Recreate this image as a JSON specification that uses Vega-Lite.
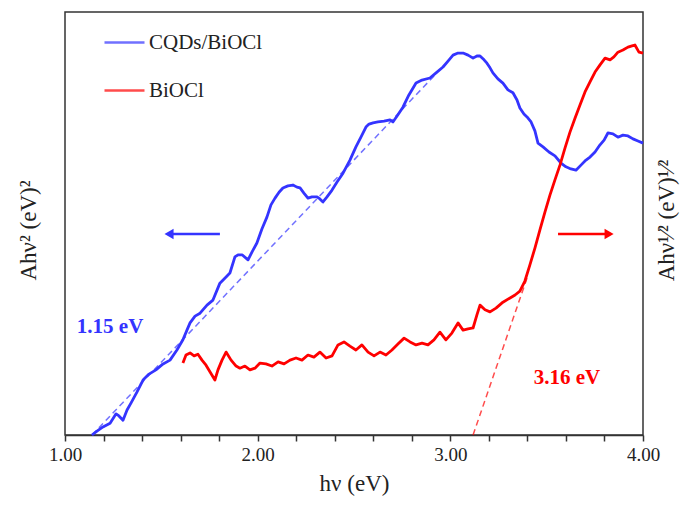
{
  "$schema": "https://vega.github.io/schema/vega-lite/v6.json",
  "width": 578,
  "height": 423,
  "autosize": {"type": "none"},
  "padding": {"left": 65, "top": 12, "right": 49, "bottom": 81},
  "config": {
    "view": {"stroke": "#333333", "strokeWidth": 1.5},
    "font": "Liberation Serif",
    "axis": {"grid": false, "titleFontWeight": "normal", "titleColor": "#222222", "labelColor": "#222222", "titleFont": "Liberation Serif", "labelFont": "Liberation Serif"},
    "axisX": {"labelFontSize": 19, "titleFontSize": 23, "tickSize": 6, "tickWidth": 1.5, "tickCount": 30, "tickColor": "#333333", "domainColor": "#333333", "domainWidth": 1.5, "labelPadding": 4, "titlePadding": 8, "labelOverlap": false, "labelFlush": false},
    "legend": {"labelFont": "Liberation Serif", "titleFont": "Liberation Serif"}
  },
  "datasets": {
    "main": [
      {"series": "CQDs/BiOCl", "x": 1.140, "y": 0},
      {"series": "CQDs/BiOCl", "x": 1.166, "y": 0.9},
      {"series": "CQDs/BiOCl", "x": 1.197, "y": 1.9},
      {"series": "CQDs/BiOCl", "x": 1.234, "y": 2.8},
      {"series": "CQDs/BiOCl", "x": 1.265, "y": 5.0},
      {"series": "CQDs/BiOCl", "x": 1.280, "y": 4.5},
      {"series": "CQDs/BiOCl", "x": 1.301, "y": 3.5},
      {"series": "CQDs/BiOCl", "x": 1.322, "y": 5.9},
      {"series": "CQDs/BiOCl", "x": 1.343, "y": 7.6},
      {"series": "CQDs/BiOCl", "x": 1.374, "y": 10.2},
      {"series": "CQDs/BiOCl", "x": 1.405, "y": 13.0},
      {"series": "CQDs/BiOCl", "x": 1.436, "y": 14.4},
      {"series": "CQDs/BiOCl", "x": 1.472, "y": 15.4},
      {"series": "CQDs/BiOCl", "x": 1.509, "y": 16.8},
      {"series": "CQDs/BiOCl", "x": 1.545, "y": 17.7},
      {"series": "CQDs/BiOCl", "x": 1.581, "y": 20.1},
      {"series": "CQDs/BiOCl", "x": 1.612, "y": 22.5},
      {"series": "CQDs/BiOCl", "x": 1.633, "y": 24.8},
      {"series": "CQDs/BiOCl", "x": 1.649, "y": 26.5},
      {"series": "CQDs/BiOCl", "x": 1.675, "y": 28.1},
      {"series": "CQDs/BiOCl", "x": 1.701, "y": 28.8},
      {"series": "CQDs/BiOCl", "x": 1.737, "y": 30.7},
      {"series": "CQDs/BiOCl", "x": 1.768, "y": 31.9},
      {"series": "CQDs/BiOCl", "x": 1.804, "y": 35.9},
      {"series": "CQDs/BiOCl", "x": 1.841, "y": 37.6},
      {"series": "CQDs/BiOCl", "x": 1.856, "y": 38.3},
      {"series": "CQDs/BiOCl", "x": 1.882, "y": 42.1},
      {"series": "CQDs/BiOCl", "x": 1.898, "y": 42.6},
      {"series": "CQDs/BiOCl", "x": 1.919, "y": 42.6},
      {"series": "CQDs/BiOCl", "x": 1.950, "y": 41.4},
      {"series": "CQDs/BiOCl", "x": 1.971, "y": 43.3},
      {"series": "CQDs/BiOCl", "x": 1.996, "y": 45.4},
      {"series": "CQDs/BiOCl", "x": 2.022, "y": 48.7},
      {"series": "CQDs/BiOCl", "x": 2.048, "y": 51.5},
      {"series": "CQDs/BiOCl", "x": 2.069, "y": 54.4},
      {"series": "CQDs/BiOCl", "x": 2.090, "y": 56.0},
      {"series": "CQDs/BiOCl", "x": 2.111, "y": 57.4},
      {"series": "CQDs/BiOCl", "x": 2.131, "y": 58.4},
      {"series": "CQDs/BiOCl", "x": 2.157, "y": 58.9},
      {"series": "CQDs/BiOCl", "x": 2.183, "y": 59.1},
      {"series": "CQDs/BiOCl", "x": 2.204, "y": 58.6},
      {"series": "CQDs/BiOCl", "x": 2.220, "y": 58.4},
      {"series": "CQDs/BiOCl", "x": 2.240, "y": 57.2},
      {"series": "CQDs/BiOCl", "x": 2.261, "y": 56.0},
      {"series": "CQDs/BiOCl", "x": 2.282, "y": 56.3},
      {"series": "CQDs/BiOCl", "x": 2.308, "y": 56.3},
      {"series": "CQDs/BiOCl", "x": 2.323, "y": 55.8},
      {"series": "CQDs/BiOCl", "x": 2.339, "y": 55.1},
      {"series": "CQDs/BiOCl", "x": 2.360, "y": 56.3},
      {"series": "CQDs/BiOCl", "x": 2.386, "y": 57.9},
      {"series": "CQDs/BiOCl", "x": 2.412, "y": 59.8},
      {"series": "CQDs/BiOCl", "x": 2.443, "y": 61.9},
      {"series": "CQDs/BiOCl", "x": 2.479, "y": 65.0},
      {"series": "CQDs/BiOCl", "x": 2.510, "y": 68.1},
      {"series": "CQDs/BiOCl", "x": 2.536, "y": 70.4},
      {"series": "CQDs/BiOCl", "x": 2.562, "y": 72.8},
      {"series": "CQDs/BiOCl", "x": 2.578, "y": 73.5},
      {"series": "CQDs/BiOCl", "x": 2.599, "y": 73.8},
      {"series": "CQDs/BiOCl", "x": 2.624, "y": 74.0},
      {"series": "CQDs/BiOCl", "x": 2.656, "y": 74.2},
      {"series": "CQDs/BiOCl", "x": 2.687, "y": 74.5},
      {"series": "CQDs/BiOCl", "x": 2.702, "y": 74.0},
      {"series": "CQDs/BiOCl", "x": 2.728, "y": 75.7},
      {"series": "CQDs/BiOCl", "x": 2.754, "y": 77.5},
      {"series": "CQDs/BiOCl", "x": 2.785, "y": 80.4},
      {"series": "CQDs/BiOCl", "x": 2.822, "y": 83.2},
      {"series": "CQDs/BiOCl", "x": 2.853, "y": 83.9},
      {"series": "CQDs/BiOCl", "x": 2.894, "y": 84.4},
      {"series": "CQDs/BiOCl", "x": 2.926, "y": 85.6},
      {"series": "CQDs/BiOCl", "x": 2.962, "y": 87.0},
      {"series": "CQDs/BiOCl", "x": 2.988, "y": 88.4},
      {"series": "CQDs/BiOCl", "x": 3.014, "y": 89.8},
      {"series": "CQDs/BiOCl", "x": 3.040, "y": 90.3},
      {"series": "CQDs/BiOCl", "x": 3.066, "y": 90.3},
      {"series": "CQDs/BiOCl", "x": 3.092, "y": 89.8},
      {"series": "CQDs/BiOCl", "x": 3.118, "y": 89.1},
      {"series": "CQDs/BiOCl", "x": 3.138, "y": 89.6},
      {"series": "CQDs/BiOCl", "x": 3.154, "y": 89.6},
      {"series": "CQDs/BiOCl", "x": 3.175, "y": 88.7},
      {"series": "CQDs/BiOCl", "x": 3.190, "y": 87.9},
      {"series": "CQDs/BiOCl", "x": 3.206, "y": 86.8},
      {"series": "CQDs/BiOCl", "x": 3.221, "y": 85.6},
      {"series": "CQDs/BiOCl", "x": 3.247, "y": 84.2},
      {"series": "CQDs/BiOCl", "x": 3.273, "y": 83.2},
      {"series": "CQDs/BiOCl", "x": 3.299, "y": 81.6},
      {"series": "CQDs/BiOCl", "x": 3.325, "y": 80.9},
      {"series": "CQDs/BiOCl", "x": 3.346, "y": 79.2},
      {"series": "CQDs/BiOCl", "x": 3.361, "y": 77.3},
      {"series": "CQDs/BiOCl", "x": 3.382, "y": 75.9},
      {"series": "CQDs/BiOCl", "x": 3.398, "y": 75.2},
      {"series": "CQDs/BiOCl", "x": 3.419, "y": 74.0},
      {"series": "CQDs/BiOCl", "x": 3.439, "y": 71.9},
      {"series": "CQDs/BiOCl", "x": 3.455, "y": 69.0},
      {"series": "CQDs/BiOCl", "x": 3.481, "y": 68.1},
      {"series": "CQDs/BiOCl", "x": 3.512, "y": 66.9},
      {"series": "CQDs/BiOCl", "x": 3.543, "y": 66.0},
      {"series": "CQDs/BiOCl", "x": 3.574, "y": 64.3},
      {"series": "CQDs/BiOCl", "x": 3.600, "y": 63.4},
      {"series": "CQDs/BiOCl", "x": 3.626, "y": 62.9},
      {"series": "CQDs/BiOCl", "x": 3.652, "y": 62.6},
      {"series": "CQDs/BiOCl", "x": 3.678, "y": 63.8},
      {"series": "CQDs/BiOCl", "x": 3.704, "y": 65.0},
      {"series": "CQDs/BiOCl", "x": 3.725, "y": 65.7},
      {"series": "CQDs/BiOCl", "x": 3.751, "y": 66.9},
      {"series": "CQDs/BiOCl", "x": 3.777, "y": 68.6},
      {"series": "CQDs/BiOCl", "x": 3.798, "y": 69.7},
      {"series": "CQDs/BiOCl", "x": 3.818, "y": 71.4},
      {"series": "CQDs/BiOCl", "x": 3.844, "y": 71.2},
      {"series": "CQDs/BiOCl", "x": 3.870, "y": 70.4},
      {"series": "CQDs/BiOCl", "x": 3.896, "y": 70.9},
      {"series": "CQDs/BiOCl", "x": 3.922, "y": 70.7},
      {"series": "CQDs/BiOCl", "x": 3.948, "y": 70.0},
      {"series": "CQDs/BiOCl", "x": 3.974, "y": 69.5},
      {"series": "CQDs/BiOCl", "x": 4.000, "y": 69.0},
      {"series": "BiOCl", "x": 1.612, "y": 17.0},
      {"series": "BiOCl", "x": 1.628, "y": 18.9},
      {"series": "BiOCl", "x": 1.649, "y": 19.4},
      {"series": "BiOCl", "x": 1.670, "y": 18.7},
      {"series": "BiOCl", "x": 1.690, "y": 19.1},
      {"series": "BiOCl", "x": 1.711, "y": 17.7},
      {"series": "BiOCl", "x": 1.732, "y": 16.5},
      {"series": "BiOCl", "x": 1.753, "y": 14.9},
      {"series": "BiOCl", "x": 1.778, "y": 13.0},
      {"series": "BiOCl", "x": 1.794, "y": 15.4},
      {"series": "BiOCl", "x": 1.815, "y": 17.7},
      {"series": "BiOCl", "x": 1.836, "y": 19.6},
      {"series": "BiOCl", "x": 1.862, "y": 17.7},
      {"series": "BiOCl", "x": 1.888, "y": 16.3},
      {"series": "BiOCl", "x": 1.908, "y": 15.8},
      {"series": "BiOCl", "x": 1.934, "y": 16.3},
      {"series": "BiOCl", "x": 1.960, "y": 15.4},
      {"series": "BiOCl", "x": 1.986, "y": 15.8},
      {"series": "BiOCl", "x": 2.012, "y": 17.0},
      {"series": "BiOCl", "x": 2.043, "y": 16.8},
      {"series": "BiOCl", "x": 2.074, "y": 16.3},
      {"series": "BiOCl", "x": 2.106, "y": 17.3},
      {"series": "BiOCl", "x": 2.137, "y": 16.8},
      {"series": "BiOCl", "x": 2.168, "y": 17.7},
      {"series": "BiOCl", "x": 2.199, "y": 18.2},
      {"series": "BiOCl", "x": 2.230, "y": 17.7},
      {"series": "BiOCl", "x": 2.261, "y": 18.9},
      {"series": "BiOCl", "x": 2.292, "y": 18.4},
      {"series": "BiOCl", "x": 2.323, "y": 19.6},
      {"series": "BiOCl", "x": 2.355, "y": 18.2},
      {"series": "BiOCl", "x": 2.386, "y": 18.7},
      {"series": "BiOCl", "x": 2.417, "y": 21.3},
      {"series": "BiOCl", "x": 2.448, "y": 22.0},
      {"series": "BiOCl", "x": 2.479, "y": 21.0},
      {"series": "BiOCl", "x": 2.510, "y": 20.1},
      {"series": "BiOCl", "x": 2.541, "y": 21.3},
      {"series": "BiOCl", "x": 2.573, "y": 19.6},
      {"series": "BiOCl", "x": 2.604, "y": 18.7},
      {"series": "BiOCl", "x": 2.635, "y": 19.6},
      {"series": "BiOCl", "x": 2.666, "y": 18.9},
      {"series": "BiOCl", "x": 2.697, "y": 20.1},
      {"series": "BiOCl", "x": 2.728, "y": 21.5},
      {"series": "BiOCl", "x": 2.760, "y": 22.9},
      {"series": "BiOCl", "x": 2.791, "y": 22.0},
      {"series": "BiOCl", "x": 2.822, "y": 21.3},
      {"series": "BiOCl", "x": 2.853, "y": 21.7},
      {"series": "BiOCl", "x": 2.884, "y": 21.3},
      {"series": "BiOCl", "x": 2.915, "y": 22.5},
      {"series": "BiOCl", "x": 2.946, "y": 24.3},
      {"series": "BiOCl", "x": 2.977, "y": 22.5},
      {"series": "BiOCl", "x": 3.008, "y": 24.1},
      {"series": "BiOCl", "x": 3.040, "y": 26.5},
      {"series": "BiOCl", "x": 3.066, "y": 24.8},
      {"series": "BiOCl", "x": 3.092, "y": 25.1},
      {"series": "BiOCl", "x": 3.118, "y": 25.3},
      {"series": "BiOCl", "x": 3.138, "y": 28.4},
      {"series": "BiOCl", "x": 3.154, "y": 30.7},
      {"series": "BiOCl", "x": 3.180, "y": 29.6},
      {"series": "BiOCl", "x": 3.206, "y": 29.1},
      {"series": "BiOCl", "x": 3.237, "y": 30.0},
      {"series": "BiOCl", "x": 3.273, "y": 31.4},
      {"series": "BiOCl", "x": 3.310, "y": 32.4},
      {"series": "BiOCl", "x": 3.336, "y": 33.1},
      {"series": "BiOCl", "x": 3.361, "y": 34.0},
      {"series": "BiOCl", "x": 3.387, "y": 36.4},
      {"series": "BiOCl", "x": 3.413, "y": 40.2},
      {"series": "BiOCl", "x": 3.439, "y": 44.2},
      {"series": "BiOCl", "x": 3.465, "y": 48.5},
      {"series": "BiOCl", "x": 3.491, "y": 52.7},
      {"series": "BiOCl", "x": 3.517, "y": 56.7},
      {"series": "BiOCl", "x": 3.543, "y": 60.3},
      {"series": "BiOCl", "x": 3.569, "y": 63.8},
      {"series": "BiOCl", "x": 3.595, "y": 67.8},
      {"series": "BiOCl", "x": 3.621, "y": 71.6},
      {"series": "BiOCl", "x": 3.647, "y": 74.9},
      {"series": "BiOCl", "x": 3.673, "y": 78.0},
      {"series": "BiOCl", "x": 3.699, "y": 81.1},
      {"series": "BiOCl", "x": 3.725, "y": 83.5},
      {"series": "BiOCl", "x": 3.751, "y": 85.8},
      {"series": "BiOCl", "x": 3.777, "y": 87.5},
      {"series": "BiOCl", "x": 3.803, "y": 89.1},
      {"series": "BiOCl", "x": 3.829, "y": 88.7},
      {"series": "BiOCl", "x": 3.849, "y": 89.4},
      {"series": "BiOCl", "x": 3.870, "y": 90.5},
      {"series": "BiOCl", "x": 3.896, "y": 91.0},
      {"series": "BiOCl", "x": 3.922, "y": 91.7},
      {"series": "BiOCl", "x": 3.943, "y": 92.0},
      {"series": "BiOCl", "x": 3.958, "y": 92.2},
      {"series": "BiOCl", "x": 3.979, "y": 90.5},
      {"series": "BiOCl", "x": 4.000, "y": 90.3}
    ],
    "tangents": [
      {"series": "CQDs/BiOCl", "x": 1.140, "y": 0},
      {"series": "CQDs/BiOCl", "x": 2.920, "y": 85.1},
      {"series": "BiOCl", "x": 3.118, "y": 0},
      {"series": "BiOCl", "x": 3.398, "y": 37.1}
    ],
    "arrows": [
      {"series": "CQDs/BiOCl", "x": 1.540, "x2": 1.804, "y": 47.5},
      {"series": "BiOCl", "x": 3.559, "x2": 3.824, "y": 47.5}
    ],
    "heads": [
      {"series": "CQDs/BiOCl", "x": 1.540, "y": 47.5},
      {"series": "BiOCl", "x": 3.824, "y": 47.5}
    ],
    "labels": [
      {"series": "CQDs/BiOCl", "x": 1.234, "y": 25.5, "text": "1.15 eV"},
      {"series": "BiOCl", "x": 3.605, "y": 13.5, "text": "3.16 eV"}
    ]
  },
  "encoding": {
    "x": {
      "field": "x", "type": "quantitative",
      "scale": {"domain": [1, 4], "nice": false, "zero": false},
      "axis": {
        "title": "hν (eV)",
        "values": [1, 1.2, 1.4, 1.6, 1.8, 2, 2.2, 2.4, 2.6, 2.8, 3, 3.2, 3.4, 3.6, 3.8, 4],
        "tickCount": 30,
        "labelExpr": "abs(datum.value - round(datum.value)) < 0.001 ? format(datum.value, '.2f') : ''",
        "labelOverlap": false,
        "labelFont": "Liberation Serif", "titleFont": "Liberation Serif",
        "labelFontSize": 19, "titleFontSize": 23,
        "tickSize": 6, "tickWidth": 1.5, "tickColor": "#333333",
        "domainColor": "#333333", "domainWidth": 1.5,
        "labelPadding": 4, "titlePadding": 8, "labelFlush": false
      }
    },
    "color": {
      "field": "series", "type": "nominal",
      "scale": {"domain": ["CQDs/BiOCl", "BiOCl"], "range": ["#3434ff", "#ff0000"]},
      "legend": {
        "orient": "none", "legendX": 38, "legendY": 9, "title": null,
        "symbolType": "stroke", "symbolSize": 1600, "symbolStrokeWidth": 2.5,
        "labelFontSize": 21, "labelFont": "Liberation Serif", "labelColor": "#222222",
        "rowPadding": 16, "labelOffset": 3
      }
    }
  },
  "resolve": {"axis": {"y": "independent"}},
  "layer": [
    {
      "data": {"name": "main"},
      "mark": {"type": "line", "strokeWidth": 2.8, "strokeJoin": "round"},
      "encoding": {
        "y": {
          "field": "y", "type": "quantitative",
          "scale": {"domain": [0, 100], "nice": false},
          "axis": {
            "orient": "left", "title": "Ahν² (eV)²", "labels": false, "ticks": false, "domain": false,
            "titleFont": "Liberation Serif",
            "titleFontSize": 23, "titleAngle": 270, "titleX": -30, "titleY": 218,
            "titleAlign": "center", "titleBaseline": "alphabetic"
          }
        }
      }
    },
    {
      "data": {"name": "tangents"},
      "mark": {"type": "line", "strokeWidth": 1.5, "strokeDash": [6, 4], "opacity": 0.7},
      "encoding": {
        "y": {
          "field": "y", "type": "quantitative",
          "axis": {
            "orient": "right", "title": "Ahν¹⁄² (eV)¹⁄²", "labels": false, "ticks": false, "domain": false,
            "titleFont": "Liberation Serif",
            "titleFontSize": 23, "titleAngle": 270, "titleX": 30, "titleY": 208,
            "titleAlign": "center", "titleBaseline": "alphabetic"
          }
        },
        "detail": {"field": "series"}
      }
    },
    {
      "data": {"name": "arrows"},
      "mark": {"type": "rule", "strokeWidth": 2.5},
      "encoding": {
        "x2": {"field": "x2"},
        "y": {"field": "y", "type": "quantitative", "axis": null}
      }
    },
    {
      "data": {"name": "heads"},
      "transform": [{"filter": "datum.series == 'CQDs/BiOCl'"}],
      "mark": {"type": "point", "filled": true, "opacity": 1, "size": 110, "shape": "triangle-left"},
      "encoding": {
        "y": {"field": "y", "type": "quantitative", "axis": null}
      }
    },
    {
      "data": {"name": "heads"},
      "transform": [{"filter": "datum.series == 'BiOCl'"}],
      "mark": {"type": "point", "filled": true, "opacity": 1, "size": 110, "shape": "triangle-right"},
      "encoding": {
        "y": {"field": "y", "type": "quantitative", "axis": null}
      }
    },
    {
      "data": {"name": "labels"},
      "mark": {"type": "text", "fontSize": 21, "fontWeight": "bold", "font": "Liberation Serif"},
      "encoding": {
        "y": {"field": "y", "type": "quantitative", "axis": null},
        "text": {"field": "text"}
      }
    }
  ]
}
